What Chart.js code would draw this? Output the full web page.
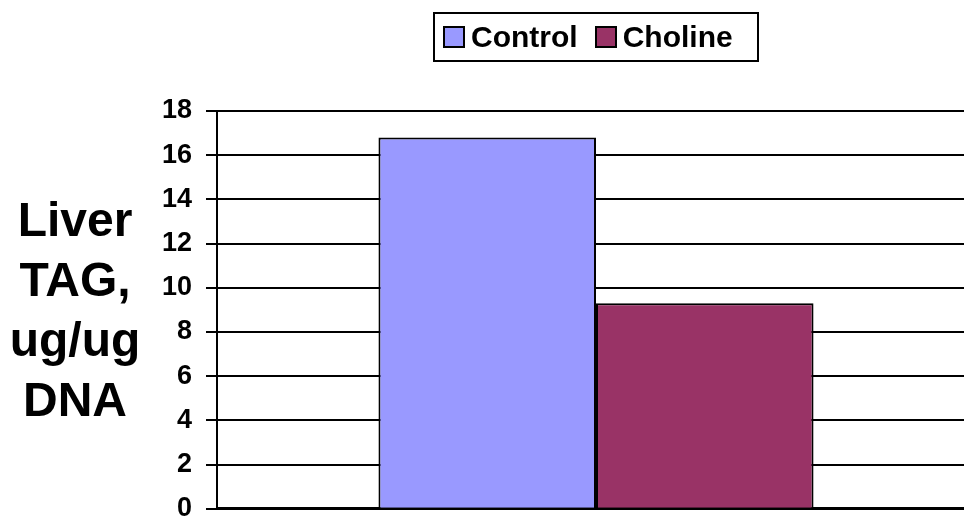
<!DOCTYPE html>
<html>
<head>
<meta charset="utf-8">
<script src="https://cdn.jsdelivr.net/npm/chart.js@4.4.1/dist/chart.umd.min.js"></script>
<style>
  html, body { margin:0; padding:0; background:#fff; overflow:hidden; }
  #wrap { position:relative; width:964px; height:517px; overflow:hidden; }
  #chart { position:absolute; left:0; top:0; }
  #ytitle {
    position:absolute; left:0; top:190px; width:150px; text-align:center;
    font:bold 48px "Liberation Sans", Arial, sans-serif; line-height:60px; color:#000;
  }
  #legend {
    position:absolute; left:433px; top:12px; width:314px; height:46px;
    border:2px solid #000; display:flex; align-items:center; padding-left:8px; box-sizing:content-box;
    font:bold 30px "Liberation Sans", Arial, sans-serif; color:#000;
  }
  #legend .sw { width:18px; height:18px; border:2px solid #000; margin-right:6px; }
  #legend .item { display:flex; align-items:center; margin-right:17px; }
</style>
</head>
<body>
<div id="wrap">
  <canvas id="chart" width="975" height="539"></canvas>
  <div id="ytitle">Liver<br>TAG,<br>ug/ug<br>DNA</div>
  <div id="legend"></div>
</div>
<script>
// Dados
const categories = [''];
const seriesNames = ['Control', 'Choline'];
const controlValues = [16.8];
const cholineValues = [9.3];
const seriesColors = ['#9999FF', '#993366'];
const yTicks = [0, 2, 4, 6, 8, 10, 12, 14, 16, 18];

// Legenda em HTML
const legend = document.getElementById('legend');
seriesNames.forEach((name, i) => {
  const item = document.createElement('span');
  item.className = 'item';
  const sw = document.createElement('span');
  sw.className = 'sw';
  sw.style.background = seriesColors[i];
  item.appendChild(sw);
  item.appendChild(document.createTextNode(name));
  legend.appendChild(item);
});

const ctx = document.getElementById('chart').getContext('2d');
new Chart(ctx, {
  type: 'bar',
  data: {
    labels: categories,
    datasets: [
      { label: seriesNames[0], data: controlValues, backgroundColor: seriesColors[0], borderColor: '#000', borderWidth: 2 },
      { label: seriesNames[1], data: cholineValues, backgroundColor: seriesColors[1], borderColor: '#000', borderWidth: 2 }
    ]
  },
  options: {
    responsive: false,
    animation: false,
    layout: { padding: { top: 111, bottom: 9, left: 0, right: 0 } },
    plugins: { legend: { display: false }, tooltip: { enabled: false } },
    datasets: { bar: { categoryPercentage: 0.574, barPercentage: 1 } },
    scales: {
      x: {
        grid: { display: false },
        ticks: { display: false },
        border: { color: '#000', width: 3 },
        afterFit: s => { s.height = 0; }
      },
      y: {
        min: 0,
        max: yTicks[yTicks.length - 1],
        afterBuildTicks: s => { s.ticks = yTicks.map(v => ({ value: v })); },
        ticks: {
          color: '#000',
          padding: 14,
          font: { family: '"Liberation Sans", Arial, sans-serif', size: 27, weight: 'bold' }
        },
        grid: { color: '#000', lineWidth: 2, tickLength: 11 },
        border: { color: '#000', width: 2 },
        afterFit: s => { s.width = 217; }
      }
    }
  }
});
</script>
</body>
</html>
